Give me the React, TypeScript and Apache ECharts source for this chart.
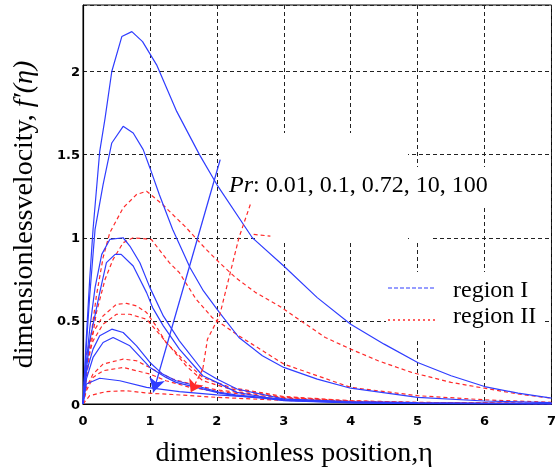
import React, { useEffect, useRef } from "react";
import * as echarts from "echarts";

// Axis ticks
const xTickValues = [0, 1, 2, 3, 4, 5, 6, 7];
const yTickValues = [0, 0.5, 1, 1.5, 2];

// Region I curves (blue solid)
const blue1 = [[0,0],[0.05,0.4],[0.1,0.75],[0.15,1.05],[0.25,1.52],[0.33,1.72],[0.43,2.0],[0.58,2.21],[0.73,2.24],[0.89,2.18],[1.1,2.04],[1.4,1.76],[1.74,1.5],[2.0,1.32],[2.53,1.0],[3.0,0.83],[3.5,0.64],[4,0.48],[4.5,0.36],[5,0.25],[5.5,0.17],[6,0.105],[6.5,0.065],[7,0.035]];
const blue2 = [[0,0],[0.05,0.35],[0.1,0.65],[0.18,1.05],[0.3,1.32],[0.43,1.57],[0.6,1.67],[0.75,1.63],[0.9,1.53],[1.0,1.42],[1.14,1.26],[1.34,1.05],[1.6,0.82],[1.8,0.68],[2.04,0.55],[2.33,0.4],[2.68,0.29],[3,0.22],[3.5,0.15],[4,0.095],[5,0.04],[6,0.018],[7,0.008]];
const blue3 = [[0,0],[0.05,0.25],[0.1,0.45],[0.18,0.7],[0.28,0.9],[0.4,0.99],[0.6,1.0],[0.7,0.95],[0.85,0.85],[1.0,0.7],[1.2,0.53],[1.44,0.38],[1.79,0.2],[2.0,0.15],[2.3,0.09],[3,0.03],[4,0.01],[5,0.004],[7,0.001]];
const blue4 = [[0,0],[0.05,0.2],[0.1,0.38],[0.25,0.67],[0.35,0.85],[0.48,0.9],[0.57,0.9],[0.75,0.83],[0.95,0.67],[1.04,0.58],[1.2,0.47],[1.44,0.33],[1.79,0.17],[2.0,0.13],[2.3,0.07],[3,0.02],[4,0.006],[5,0.002],[7,0]];
const blue5 = [[0,0],[0.05,0.19],[0.15,0.33],[0.25,0.41],[0.43,0.45],[0.6,0.43],[0.8,0.35],[1.0,0.25],[1.19,0.18],[1.39,0.14],[1.69,0.11],[2.04,0.07],[2.28,0.055],[3,0.025],[4,0.01],[5,0.004],[7,0.001]];
const blue6 = [[0,0],[0.05,0.15],[0.15,0.28],[0.3,0.37],[0.45,0.4],[0.7,0.35],[1.0,0.22],[1.24,0.16],[1.39,0.13],[1.69,0.1],[2.04,0.065],[2.28,0.05],[3,0.022],[4,0.008],[5,0.003],[7,0.001]];
const blue7 = [[0,0],[0.05,0.12],[0.25,0.155],[0.55,0.14],[0.95,0.1],[1.44,0.075],[2,0.055],[3,0.03],[4,0.015],[5,0.008],[7,0.003]];

// Region II curves (red dashed)
const red1 = [[0,0],[0.1,0.35],[0.2,0.65],[0.3,0.88],[0.4,1.03],[0.6,1.18],[0.8,1.26],[0.95,1.28],[1.19,1.2],[1.39,1.12],[1.52,1.07],[1.84,0.93],[2.04,0.85],[2.28,0.76],[2.58,0.67],[2.93,0.59],[3.62,0.4],[4,0.33],[4.41,0.26],[4.91,0.19],[5.5,0.13],[6,0.095],[6.5,0.06],[7,0.035]];
const red2 = [[0,0],[0.1,0.3],[0.2,0.55],[0.33,0.75],[0.45,0.87],[0.6,0.97],[0.75,1.0],[1.02,0.99],[1.29,0.85],[1.44,0.79],[1.69,0.63],[1.93,0.52],[2.33,0.41],[3,0.24],[4,0.1],[5,0.05],[6,0.025],[7,0.01]];
const red3 = [[0,0],[0.05,0.3],[0.15,0.43],[0.3,0.53],[0.5,0.6],[0.65,0.605],[0.8,0.59],[0.95,0.55],[1.09,0.47],[1.24,0.37],[1.54,0.25],[1.79,0.16],[2.2,0.1],[3,0.045],[4,0.02],[5,0.01],[7,0.003]];
const red4 = [[0,0],[0.05,0.25],[0.15,0.38],[0.3,0.48],[0.5,0.54],[0.7,0.54],[0.95,0.51],[1.1,0.44],[1.29,0.35],[1.54,0.23],[1.79,0.14],[2.2,0.09],[3,0.04],[4,0.017],[5,0.008],[7,0.002]];
const red5 = [[0,0],[0.05,0.1],[0.15,0.18],[0.3,0.24],[0.6,0.27],[0.8,0.26],[1.09,0.2],[1.34,0.15],[1.7,0.11],[2,0.085],[3,0.04],[4,0.018],[5,0.008],[7,0.002]];
const red6 = [[0,0],[0.05,0.08],[0.15,0.16],[0.3,0.2],[0.6,0.22],[1.0,0.18],[1.24,0.14],[1.6,0.1],[2,0.075],[3,0.035],[4,0.015],[5,0.006],[7,0.002]];
const red7 = [[0,0],[0.1,0.05],[0.35,0.075],[0.65,0.08],[0.95,0.066],[1.34,0.057],[2,0.04],[3,0.022],[4,0.012],[5,0.006],[7,0.002]];

// Annotation arrows
const blueArrow = [[2.05, 1.47], [1.05, 0.07]];
const redArrowPath = [[2.5, 1.2], [2.33, 1.0], [2.04, 0.53], [1.86, 0.39], [1.79, 0.21]];
const redArrowHead = [[1.79, 0.21], [1.61, 0.07]];
const redStray = [[2.55, 1.02], [2.8, 1.01]];

const blueCurves = [blue1, blue2, blue3, blue4, blue5, blue6, blue7];
const redCurves = [red1, red2, red3, red4, red5, red6, red7];

const BLUE = "#2f3dff";
const RED = "#ff2a2a";
const SERIF = "'Liberation Serif', 'DejaVu Serif', serif";
const SANS = "'DejaVu Sans', 'Liberation Sans', sans-serif";

export default function App() {
  const ref = useRef<HTMLDivElement>(null);
  useEffect(() => {
    const chart = echarts.init(ref.current!, null, { renderer: "svg" });
    const series: any[] = [];
    redCurves.forEach((d) => {
      series.push({
        type: "line", name: "region II", data: d, symbol: "none", smooth: false,
        lineStyle: { color: RED, width: 1.2, type: [4, 3] }, z: 2,
      });
    });
    blueCurves.forEach((d) => {
      series.push({
        type: "line", name: "region I", data: d, symbol: "none", smooth: false,
        lineStyle: { color: BLUE, width: 1.2 }, z: 3,
      });
    });
    series.push({
      type: "line", data: redArrowPath, symbol: "none",
      lineStyle: { color: RED, width: 1.2, type: [4, 3] }, z: 3,
    });
    series.push({
      type: "line", data: redStray, symbol: "none",
      lineStyle: { color: RED, width: 1.2, type: [4, 3] }, z: 3,
    });
    series.push({
      type: "line", data: [], symbol: "none",
      markLine: {
        silent: true, symbol: ["none", "arrow"], symbolSize: [12, 14], label: { show: false },
        lineStyle: { color: BLUE, width: 1.3, type: "solid" },
        data: [[{ coord: blueArrow[0] }, { coord: blueArrow[1] }]],
      }, z: 4,
    });
    series.push({
      type: "line", data: [], symbol: "none",
      markLine: {
        silent: true, symbol: ["none", "arrow"], symbolSize: [12, 12], label: { show: false },
        lineStyle: { color: RED, width: 1.3, type: [4, 3] },
        data: [[{ coord: redArrowHead[0] }, { coord: redArrowHead[1] }]],
      }, z: 4,
    });

    chart.setOption({
      animation: false,
      grid: { left: 83, top: 5, right: 4, bottom: 61, show: true, borderColor: "#000", borderWidth: 1 },
      xAxis: {
        type: "value", min: xTickValues[0], max: xTickValues[xTickValues.length - 1], interval: 1,
        axisLine: { lineStyle: { color: "#000", width: 1.2 } },
        axisTick: { show: false },
        axisLabel: { color: "#000", fontWeight: 900, fontSize: 13, fontFamily: SANS, margin: 10 },
        splitLine: { show: true, lineStyle: { color: "#222", type: [4, 3], width: 1 } },
        name: "dimensionless position,η", nameLocation: "middle", nameGap: 33,
        nameTextStyle: { color: "#000", fontSize: 28, fontFamily: SERIF, padding: [0, 46, 0, 0] },
      },
      yAxis: {
        type: "value", min: 0, max: 2.4, interval: 0.5,
        axisLine: { lineStyle: { color: "#000", width: 1.2 } },
        axisTick: { show: false },
        axisLabel: {
          color: "#000", fontWeight: 900, fontSize: 13, fontFamily: SANS, margin: 3,
          showMaxLabel: false,
          formatter: (v: number) => (yTickValues.includes(v) ? String(v) : ""),
        },
        splitLine: { show: true, lineStyle: { color: "#222", type: [4, 3], width: 1 } },
        name: "dimensionlessvelocity, {i|f′(η)}", nameLocation: "middle", nameGap: 47,
        nameTextStyle: {
          color: "#000", fontSize: 28, fontFamily: SERIF, padding: [0, 20, 0, 0],
          rich: { i: { fontStyle: "italic", fontSize: 28, fontFamily: SERIF, color: "#000" } },
        },
      },
      graphic: [
        { type: "rect", z: 1, shape: { x: 219, y: 133, width: 189, height: 67 }, style: { fill: "#fff" } },
        { type: "rect", z: 1, shape: { x: 258, y: 199, width: 150, height: 44 }, style: { fill: "#fff" } },
        { type: "rect", z: 1, shape: { x: 408, y: 167, width: 88, height: 41 }, style: { fill: "#fff" } },
        { type: "rect", z: 1, shape: { x: 410, y: 207, width: 20, height: 33 }, style: { fill: "#fff" } },
        { type: "rect", z: 1, shape: { x: 386, y: 272, width: 158, height: 68 }, style: { fill: "#fff" } },
        {
          type: "text", z: 10, x: 229, y: 184,
          style: {
            text: "{i|Pr}: 0.01, 0.1, 0.72, 10, 100", fill: "#000", font: `24px ${SERIF}`,
            verticalAlign: "middle",
            rich: { i: { fontStyle: "italic", fontSize: 24, fontFamily: SERIF, fill: "#000" } },
          },
        },
        { type: "line", z: 10, shape: { x1: 388, y1: 288, x2: 435, y2: 288 }, style: { stroke: BLUE, lineWidth: 1.2, lineDash: [4, 2] } },
        { type: "text", z: 10, x: 453, y: 289, style: { text: "region I", fill: "#000", font: `24px ${SERIF}`, verticalAlign: "middle" } },
        { type: "line", z: 10, shape: { x1: 388, y1: 320, x2: 435, y2: 320 }, style: { stroke: RED, lineWidth: 1.5, lineDash: [2, 3] } },
        { type: "text", z: 10, x: 453, y: 315, style: { text: "region II", fill: "#000", font: `24px ${SERIF}`, verticalAlign: "middle" } },
      ],
      series,
    });
    return () => chart.dispose();
  }, []);
  return <div ref={ref} style={{ position: "fixed", left: 0, top: 0, width: 559, height: 470 }} />;
}
